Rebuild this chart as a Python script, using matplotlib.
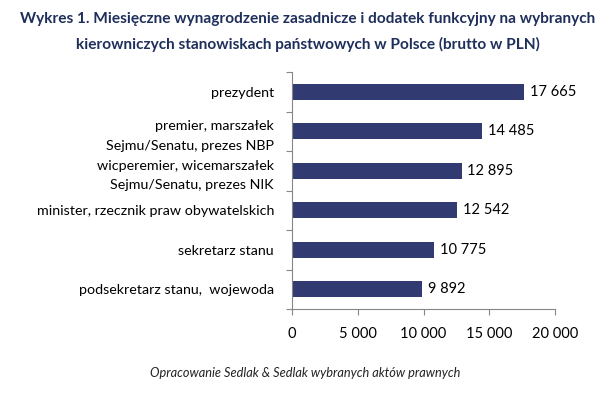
import matplotlib.pyplot as plt

plt.rcParams['font.family'] = ['Lato', 'DejaVu Sans']

categories = ['prezydent',
              'premier, marszałek\nSejmu/Senatu, prezes NBP',
              'wicperemier, wicemarszałek\nSejmu/Senatu, prezes NIK',
              'minister, rzecznik praw obywatelskich',
              'sekretarz stanu',
              'podsekretarz stanu,  wojewoda']
values = [17665, 14485, 12895, 12542, 10775, 9892]
xticks = [0, 5000, 10000, 15000, 20000]


def fmt(v):
    return '{:,}'.format(v).replace(',', ' ')


fig = plt.figure(figsize=(6.16, 3.97), dpi=100)
ax = fig.add_axes([292 / 616, 1 - 309 / 397, 263 / 616, 237 / 397])

ypos = list(range(len(categories)))
ax.barh(ypos, values, height=0.4, color='#313B72')
ax.set_ylim(len(categories) - 0.5, -0.5)
ax.set_xlim(0, 20000)

for y, v in zip(ypos, values):
    ax.text(v + 450, y, fmt(v), va='center', ha='left', fontsize=10.5, color='black')

ax.set_xticks(xticks)
ax.set_xticklabels([fmt(t) for t in xticks], fontsize=10.5)
ax.set_yticks([i - 0.5 for i in range(len(categories) + 1)], minor=False)
ax.set_yticklabels([])
ax.set_yticks(ypos, minor=True)
ax.set_yticklabels(categories, minor=True, fontsize=10.3, linespacing=1.75)
ax.tick_params(axis='y', which='minor', length=0, pad=13)
ax.tick_params(axis='y', which='major', length=4, color='#868686', direction='out')
ax.tick_params(axis='x', length=4, color='#868686', direction='out', pad=9)

for s in ['top', 'right']:
    ax.spines[s].set_visible(False)
for s in ['left', 'bottom']:
    ax.spines[s].set_color('#868686')

fig.text(0.5, 1 - 19 / 397, 'Wykres 1. Miesięczne wynagrodzenie zasadnicze i dodatek funkcyjny na wybranych',
         ha='center', va='center', fontsize=11.1, fontweight='bold', color='#1F2F5C')
fig.text(0.5, 1 - 44 / 397, 'kierowniczych stanowiskach państwowych w Polsce (brutto w PLN)',
         ha='center', va='center', fontsize=11.1, fontweight='bold', color='#1F2F5C')
fig.text(305 / 616, 1 - 373 / 397, 'Opracowanie Sedlak & Sedlak wybranych aktów prawnych',
         ha='center', va='center', fontsize=9.2, style='italic', color='#222222')

fig.savefig('out.png', dpi=100)
